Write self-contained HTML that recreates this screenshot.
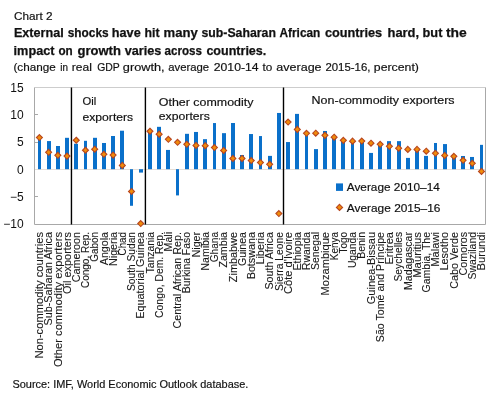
<!DOCTYPE html>
<html><head><meta charset="utf-8"><title>Chart 2</title>
<style>html,body{margin:0;padding:0;background:#fff;width:500px;height:410px;overflow:hidden}</style>
</head><body>
<svg width="500" height="410" viewBox="0 0 500 410" style="display:block;will-change:transform">
<rect x="0" y="0" width="500" height="410" fill="#ffffff"/>
<g font-family='"Liberation Sans", sans-serif' fill="#111111">
<text x="14" y="20" font-size="11.2" stroke="#111111" stroke-width="0.18" textLength="38.5" lengthAdjust="spacingAndGlyphs">Chart 2</text>
<g font-size="12.8" font-weight="bold" stroke="#111" stroke-width="0.25">
<text x="13.90" y="37" textLength="49.80" lengthAdjust="spacingAndGlyphs">External</text>
<text x="67.70" y="37" textLength="40.90" lengthAdjust="spacingAndGlyphs">shocks</text>
<text x="111.80" y="37" textLength="28.90" lengthAdjust="spacingAndGlyphs">have</text>
<text x="144.60" y="37" textLength="15.00" lengthAdjust="spacingAndGlyphs">hit</text>
<text x="163.50" y="37" textLength="34.20" lengthAdjust="spacingAndGlyphs">many</text>
<text x="201.50" y="37" textLength="74.40" lengthAdjust="spacingAndGlyphs">sub-Saharan</text>
<text x="279.50" y="37" textLength="40.80" lengthAdjust="spacingAndGlyphs">African</text>
<text x="324.90" y="37" textLength="57.20" lengthAdjust="spacingAndGlyphs">countries</text>
<text x="387.50" y="37" textLength="31.60" lengthAdjust="spacingAndGlyphs">hard,</text>
<text x="422.60" y="37" textLength="19.80" lengthAdjust="spacingAndGlyphs">but</text>
<text x="445.90" y="37" textLength="20.80" lengthAdjust="spacingAndGlyphs">the</text>
<text x="13.60" y="54.5" textLength="40.90" lengthAdjust="spacingAndGlyphs">impact</text>
<text x="58.40" y="54.5" textLength="14.30" lengthAdjust="spacingAndGlyphs">on</text>
<text x="77.50" y="54.5" textLength="43.40" lengthAdjust="spacingAndGlyphs">growth</text>
<text x="124.80" y="54.5" textLength="36.60" lengthAdjust="spacingAndGlyphs">varies</text>
<text x="164.60" y="54.5" textLength="37.40" lengthAdjust="spacingAndGlyphs">across</text>
<text x="206.40" y="54.5" textLength="59.90" lengthAdjust="spacingAndGlyphs">countries.</text>
</g>
<g font-size="11.2" stroke="#111111" stroke-width="0.18">
<text x="13.40" y="71" textLength="42.30" lengthAdjust="spacingAndGlyphs">(change</text>
<text x="60.30" y="71" textLength="7.70" lengthAdjust="spacingAndGlyphs">in</text>
<text x="71.80" y="71" textLength="20.10" lengthAdjust="spacingAndGlyphs">real</text>
<text x="97.20" y="71" textLength="22.60" lengthAdjust="spacingAndGlyphs">GDP</text>
<text x="122.80" y="71" textLength="41.80" lengthAdjust="spacingAndGlyphs">growth,</text>
<text x="168.20" y="71" textLength="41.00" lengthAdjust="spacingAndGlyphs">average</text>
<text x="213.80" y="71" textLength="44.80" lengthAdjust="spacingAndGlyphs">2010-14</text>
<text x="262.40" y="71" textLength="9.80" lengthAdjust="spacingAndGlyphs">to</text>
<text x="276.30" y="71" textLength="45.30" lengthAdjust="spacingAndGlyphs">average</text>
<text x="325.40" y="71" textLength="45.00" lengthAdjust="spacingAndGlyphs">2015-16,</text>
<text x="373.80" y="71" textLength="45.10" lengthAdjust="spacingAndGlyphs">percent)</text>
</g>
</g>
<line x1="34.5" y1="169.5" x2="485.5" y2="169.5" stroke="#E6DFD8" stroke-width="1"/>
<line x1="34.5" y1="87.50" x2="485.5" y2="87.50" stroke="#CDCDCD" stroke-width="1"/>
<path d="M34.5 87.50V224.50H485.5V87.50" fill="none" stroke="#A8A8A8" stroke-width="1"/>
<line x1="34.5" y1="114.50" x2="38.0" y2="114.50" stroke="#A8A8A8" stroke-width="1"/>
<line x1="34.5" y1="142.50" x2="38.0" y2="142.50" stroke="#A8A8A8" stroke-width="1"/>
<line x1="34.5" y1="196.50" x2="38.0" y2="196.50" stroke="#A8A8A8" stroke-width="1"/>
<g font-family='"Liberation Sans", sans-serif' font-size="12" fill="#111111" text-anchor="end">
<text x="23.6" y="91.60">15</text>
<text x="23.6" y="118.90">10</text>
<text x="23.6" y="146.20">5</text>
<text x="23.6" y="173.50">0</text>
<text x="23.6" y="200.80">−5</text>
<text x="23.6" y="228.10">−10</text>
</g>
<line x1="71.45" y1="87.50" x2="71.45" y2="224.50" stroke="#000" stroke-width="1.4"/>
<line x1="145.40" y1="87.50" x2="145.40" y2="224.50" stroke="#000" stroke-width="1.4"/>
<line x1="283.50" y1="87.50" x2="283.50" y2="224.50" stroke="#000" stroke-width="1.4"/>
<rect x="38" y="138.62" width="3" height="30.58" fill="#0A70CA"/>
<rect x="47" y="141.08" width="4" height="28.12" fill="#0A70CA"/>
<rect x="56" y="146.00" width="4" height="23.20" fill="#0A70CA"/>
<rect x="65" y="137.81" width="4" height="31.39" fill="#0A70CA"/>
<rect x="74" y="143.76" width="4" height="25.44" fill="#0A70CA"/>
<rect x="84" y="140.81" width="3" height="28.39" fill="#0A70CA"/>
<rect x="93" y="137.81" width="4" height="31.39" fill="#0A70CA"/>
<rect x="102" y="142.99" width="4" height="26.21" fill="#0A70CA"/>
<rect x="111" y="136.00" width="4" height="33.20" fill="#0A70CA"/>
<rect x="120" y="130.71" width="4" height="38.49" fill="#0A70CA"/>
<rect x="130" y="169.20" width="3" height="36.58" fill="#0A70CA"/>
<rect x="139" y="169.20" width="4" height="3.39" fill="#0A70CA"/>
<rect x="148" y="130.98" width="4" height="38.22" fill="#0A70CA"/>
<rect x="157" y="126.83" width="4" height="42.37" fill="#0A70CA"/>
<rect x="166" y="149.93" width="4" height="19.27" fill="#0A70CA"/>
<rect x="176" y="169.20" width="3" height="26.21" fill="#0A70CA"/>
<rect x="185" y="133.82" width="4" height="35.38" fill="#0A70CA"/>
<rect x="194" y="131.96" width="4" height="37.24" fill="#0A70CA"/>
<rect x="203" y="139.17" width="4" height="30.03" fill="#0A70CA"/>
<rect x="213" y="123.06" width="3" height="46.14" fill="#0A70CA"/>
<rect x="222" y="133.16" width="4" height="36.04" fill="#0A70CA"/>
<rect x="231" y="123.01" width="4" height="46.19" fill="#0A70CA"/>
<rect x="240" y="155.00" width="4" height="14.20" fill="#0A70CA"/>
<rect x="249" y="134.04" width="4" height="35.16" fill="#0A70CA"/>
<rect x="259" y="136.06" width="3" height="33.14" fill="#0A70CA"/>
<rect x="268" y="155.88" width="4" height="13.32" fill="#0A70CA"/>
<rect x="277" y="112.96" width="4" height="56.24" fill="#0A70CA"/>
<rect x="286" y="142.06" width="4" height="27.14" fill="#0A70CA"/>
<rect x="295" y="113.89" width="4" height="55.31" fill="#0A70CA"/>
<rect x="305" y="132.62" width="3" height="36.58" fill="#0A70CA"/>
<rect x="314" y="149.11" width="4" height="20.09" fill="#0A70CA"/>
<rect x="323" y="130.98" width="4" height="38.22" fill="#0A70CA"/>
<rect x="332" y="137.53" width="4" height="31.67" fill="#0A70CA"/>
<rect x="341" y="141.35" width="4" height="27.85" fill="#0A70CA"/>
<rect x="351" y="141.90" width="3" height="27.30" fill="#0A70CA"/>
<rect x="360" y="141.90" width="4" height="27.30" fill="#0A70CA"/>
<rect x="369" y="152.93" width="4" height="16.27" fill="#0A70CA"/>
<rect x="378" y="144.63" width="4" height="24.57" fill="#0A70CA"/>
<rect x="387" y="141.14" width="4" height="28.06" fill="#0A70CA"/>
<rect x="397" y="141.14" width="4" height="28.06" fill="#0A70CA"/>
<rect x="406" y="157.90" width="4" height="11.30" fill="#0A70CA"/>
<rect x="415" y="150.09" width="4" height="19.11" fill="#0A70CA"/>
<rect x="424" y="155.88" width="4" height="13.32" fill="#0A70CA"/>
<rect x="434" y="142.99" width="3" height="26.21" fill="#0A70CA"/>
<rect x="443" y="144.08" width="4" height="25.12" fill="#0A70CA"/>
<rect x="452" y="156.64" width="4" height="12.56" fill="#0A70CA"/>
<rect x="461" y="155.99" width="4" height="13.21" fill="#0A70CA"/>
<rect x="470" y="156.97" width="4" height="12.23" fill="#0A70CA"/>
<rect x="480" y="144.85" width="3" height="24.35" fill="#0A70CA"/>
<path d="M39.42 134.53L42.42 137.53L39.42 140.53L36.42 137.53Z" fill="#F08C0A" stroke="#B8461F" stroke-width="1.1"/>
<path d="M48.62 149.27L51.62 152.27L48.62 155.27L45.62 152.27Z" fill="#F08C0A" stroke="#B8461F" stroke-width="1.1"/>
<path d="M57.84 152.28L60.84 155.28L57.84 158.28L54.84 155.28Z" fill="#F08C0A" stroke="#B8461F" stroke-width="1.1"/>
<path d="M67.05 153.10L70.05 156.10L67.05 159.10L64.05 156.10Z" fill="#F08C0A" stroke="#B8461F" stroke-width="1.1"/>
<path d="M76.26 137.26L79.26 140.26L76.26 143.26L73.26 140.26Z" fill="#F08C0A" stroke="#B8461F" stroke-width="1.1"/>
<path d="M85.47 147.25L88.47 150.25L85.47 153.25L82.47 150.25Z" fill="#F08C0A" stroke="#B8461F" stroke-width="1.1"/>
<path d="M94.68 146.16L97.68 149.16L94.68 152.16L91.68 149.16Z" fill="#F08C0A" stroke="#B8461F" stroke-width="1.1"/>
<path d="M103.89 151.29L106.89 154.29L103.89 157.29L100.89 154.29Z" fill="#F08C0A" stroke="#B8461F" stroke-width="1.1"/>
<path d="M113.10 152.11L116.10 155.11L113.10 158.11L110.10 155.11Z" fill="#F08C0A" stroke="#B8461F" stroke-width="1.1"/>
<path d="M122.31 162.38L125.31 165.38L122.31 168.38L119.31 165.38Z" fill="#F08C0A" stroke="#B8461F" stroke-width="1.1"/>
<path d="M131.52 188.48L134.52 191.48L131.52 194.48L128.52 191.48Z" fill="#F08C0A" stroke="#B8461F" stroke-width="1.1"/>
<path d="M140.73 220.53L143.73 223.53L140.73 226.53L137.73 223.53Z" fill="#F08C0A" stroke="#B8461F" stroke-width="1.1"/>
<path d="M149.94 128.25L152.94 131.25L149.94 134.25L146.94 131.25Z" fill="#F08C0A" stroke="#B8461F" stroke-width="1.1"/>
<path d="M159.15 131.15L162.15 134.15L159.15 137.15L156.15 134.15Z" fill="#F08C0A" stroke="#B8461F" stroke-width="1.1"/>
<path d="M168.36 136.28L171.36 139.28L168.36 142.28L165.36 139.28Z" fill="#F08C0A" stroke="#B8461F" stroke-width="1.1"/>
<path d="M177.57 139.34L180.57 142.34L177.57 145.34L174.57 142.34Z" fill="#F08C0A" stroke="#B8461F" stroke-width="1.1"/>
<path d="M186.78 141.30L189.78 144.30L186.78 147.30L183.78 144.30Z" fill="#F08C0A" stroke="#B8461F" stroke-width="1.1"/>
<path d="M195.99 142.45L198.99 145.45L195.99 148.45L192.99 145.45Z" fill="#F08C0A" stroke="#B8461F" stroke-width="1.1"/>
<path d="M205.20 142.72L208.20 145.72L205.20 148.72L202.20 145.72Z" fill="#F08C0A" stroke="#B8461F" stroke-width="1.1"/>
<path d="M214.41 144.58L217.41 147.58L214.41 150.58L211.41 147.58Z" fill="#F08C0A" stroke="#B8461F" stroke-width="1.1"/>
<path d="M223.62 147.47L226.62 150.47L223.62 153.47L220.62 150.47Z" fill="#F08C0A" stroke="#B8461F" stroke-width="1.1"/>
<path d="M232.83 155.44L235.83 158.44L232.83 161.44L229.83 158.44Z" fill="#F08C0A" stroke="#B8461F" stroke-width="1.1"/>
<path d="M242.04 155.44L245.04 158.44L242.04 161.44L239.04 158.44Z" fill="#F08C0A" stroke="#B8461F" stroke-width="1.1"/>
<path d="M251.25 157.57L254.25 160.57L251.25 163.57L248.25 160.57Z" fill="#F08C0A" stroke="#B8461F" stroke-width="1.1"/>
<path d="M260.46 159.59L263.46 162.59L260.46 165.59L257.46 162.59Z" fill="#F08C0A" stroke="#B8461F" stroke-width="1.1"/>
<path d="M269.67 161.29L272.67 164.29L269.67 167.29L266.67 164.29Z" fill="#F08C0A" stroke="#B8461F" stroke-width="1.1"/>
<path d="M278.88 210.59L281.88 213.59L278.88 216.59L275.88 213.59Z" fill="#F08C0A" stroke="#B8461F" stroke-width="1.1"/>
<path d="M288.09 119.08L291.09 122.08L288.09 125.08L285.09 122.08Z" fill="#F08C0A" stroke="#B8461F" stroke-width="1.1"/>
<path d="M297.30 126.40L300.30 129.40L297.30 132.40L294.30 129.40Z" fill="#F08C0A" stroke="#B8461F" stroke-width="1.1"/>
<path d="M306.51 130.27L309.51 133.27L306.51 136.27L303.51 133.27Z" fill="#F08C0A" stroke="#B8461F" stroke-width="1.1"/>
<path d="M315.72 130.16L318.72 133.16L315.72 136.16L312.72 133.16Z" fill="#F08C0A" stroke="#B8461F" stroke-width="1.1"/>
<path d="M324.93 132.35L327.93 135.35L324.93 138.35L321.93 135.35Z" fill="#F08C0A" stroke="#B8461F" stroke-width="1.1"/>
<path d="M334.14 134.20L337.14 137.20L334.14 140.20L331.14 137.20Z" fill="#F08C0A" stroke="#B8461F" stroke-width="1.1"/>
<path d="M343.35 137.37L346.35 140.37L343.35 143.37L340.35 140.37Z" fill="#F08C0A" stroke="#B8461F" stroke-width="1.1"/>
<path d="M352.56 138.14L355.56 141.14L352.56 144.14L349.56 141.14Z" fill="#F08C0A" stroke="#B8461F" stroke-width="1.1"/>
<path d="M361.77 138.08L364.77 141.08L361.77 144.08L358.77 141.08Z" fill="#F08C0A" stroke="#B8461F" stroke-width="1.1"/>
<path d="M370.98 140.16L373.98 143.16L370.98 146.16L367.98 143.16Z" fill="#F08C0A" stroke="#B8461F" stroke-width="1.1"/>
<path d="M380.19 141.30L383.19 144.30L380.19 147.30L377.19 144.30Z" fill="#F08C0A" stroke="#B8461F" stroke-width="1.1"/>
<path d="M389.40 143.27L392.40 146.27L389.40 149.27L386.40 146.27Z" fill="#F08C0A" stroke="#B8461F" stroke-width="1.1"/>
<path d="M398.61 145.18L401.61 148.18L398.61 151.18L395.61 148.18Z" fill="#F08C0A" stroke="#B8461F" stroke-width="1.1"/>
<path d="M407.82 146.38L410.82 149.38L407.82 152.38L404.82 149.38Z" fill="#F08C0A" stroke="#B8461F" stroke-width="1.1"/>
<path d="M417.03 146.38L420.03 149.38L417.03 152.38L414.03 149.38Z" fill="#F08C0A" stroke="#B8461F" stroke-width="1.1"/>
<path d="M426.24 148.18L429.24 151.18L426.24 154.18L423.24 151.18Z" fill="#F08C0A" stroke="#B8461F" stroke-width="1.1"/>
<path d="M435.45 150.31L438.45 153.31L435.45 156.31L432.45 153.31Z" fill="#F08C0A" stroke="#B8461F" stroke-width="1.1"/>
<path d="M444.66 152.44L447.66 155.44L444.66 158.44L441.66 155.44Z" fill="#F08C0A" stroke="#B8461F" stroke-width="1.1"/>
<path d="M453.87 153.37L456.87 156.37L453.87 159.37L450.87 156.37Z" fill="#F08C0A" stroke="#B8461F" stroke-width="1.1"/>
<path d="M463.08 157.30L466.08 160.30L463.08 163.30L460.08 160.30Z" fill="#F08C0A" stroke="#B8461F" stroke-width="1.1"/>
<path d="M472.29 160.30L475.29 163.30L472.29 166.30L469.29 163.30Z" fill="#F08C0A" stroke="#B8461F" stroke-width="1.1"/>
<path d="M481.50 168.38L484.50 171.38L481.50 174.38L478.50 171.38Z" fill="#F08C0A" stroke="#B8461F" stroke-width="1.1"/>
<g font-family='"Liberation Sans", sans-serif' font-size="11.2" fill="#111111" stroke="#111111" stroke-width="0.18">
<text x="82.5" y="105">Oil</text>
<text x="82.5" y="120.5" textLength="50.7" lengthAdjust="spacingAndGlyphs">exporters</text>
<text x="158.8" y="105.6" textLength="94.6" lengthAdjust="spacingAndGlyphs">Other commodity</text>
<text x="158.8" y="120" textLength="51" lengthAdjust="spacingAndGlyphs">exporters</text>
<text x="311.6" y="104" textLength="143" lengthAdjust="spacingAndGlyphs">Non-commodity exporters</text>
</g>
<rect x="336" y="183.4" width="7" height="7.5" fill="#0A70CA"/>
<path d="M339.5 204.3L342.6 207.4L339.5 210.5L336.4 207.4Z" fill="#F08C0A" stroke="#B8461F" stroke-width="1.1"/>
<g font-family='"Liberation Sans", sans-serif' font-size="11.2" fill="#111111" stroke="#111111" stroke-width="0.18">
<text x="346.8" y="191" textLength="93" lengthAdjust="spacingAndGlyphs">Average 2010–14</text>
<text x="346.8" y="212.2" textLength="93.6" lengthAdjust="spacingAndGlyphs">Average 2015–16</text>
</g>
<g font-family='"Liberation Sans", sans-serif' font-size="11.2" fill="#1a1a1a" stroke="#1a1a1a" stroke-width="0.1" text-anchor="end">
<text transform="translate(43.12 232) rotate(-90)" textLength="126.6" lengthAdjust="spacingAndGlyphs">Non-commodity countries</text>
<text transform="translate(52.33 232) rotate(-90)" textLength="93.5" lengthAdjust="spacingAndGlyphs">Sub-Saharan Africa</text>
<text transform="translate(61.54 232) rotate(-90)" textLength="135.1" lengthAdjust="spacingAndGlyphs">Other commodity exporters</text>
<text transform="translate(70.75 232) rotate(-90)" textLength="61.9" lengthAdjust="spacingAndGlyphs">Oil exporters</text>
<text transform="translate(79.96 232) rotate(-90)" textLength="50.2" lengthAdjust="spacingAndGlyphs">Cameroon</text>
<text transform="translate(89.17 232) rotate(-90)" textLength="56.0" lengthAdjust="spacingAndGlyphs">Congo, Rep.</text>
<text transform="translate(98.38 232) rotate(-90)" textLength="29.7" lengthAdjust="spacingAndGlyphs">Gabon</text>
<text transform="translate(107.59 232) rotate(-90)" textLength="33.2" lengthAdjust="spacingAndGlyphs">Angola</text>
<text transform="translate(116.80 232) rotate(-90)" textLength="34.0" lengthAdjust="spacingAndGlyphs">Nigeria</text>
<text transform="translate(126.01 232) rotate(-90)" textLength="23.4" lengthAdjust="spacingAndGlyphs">Chad</text>
<text transform="translate(135.22 232) rotate(-90)" textLength="59.0" lengthAdjust="spacingAndGlyphs">South Sudan</text>
<text transform="translate(144.43 232) rotate(-90)" textLength="86.8" lengthAdjust="spacingAndGlyphs">Equatorial Guinea</text>
<text transform="translate(153.63 232) rotate(-90)" textLength="41.5" lengthAdjust="spacingAndGlyphs">Tanzania</text>
<text transform="translate(162.84 232) rotate(-90)" textLength="85.9" lengthAdjust="spacingAndGlyphs">Congo, Dem. Rep.</text>
<text transform="translate(172.06 232) rotate(-90)" textLength="19.4" lengthAdjust="spacingAndGlyphs">Mali</text>
<text transform="translate(181.27 232) rotate(-90)" textLength="96.5" lengthAdjust="spacingAndGlyphs">Central African Rep.</text>
<text transform="translate(190.47 232) rotate(-90)" textLength="61.3" lengthAdjust="spacingAndGlyphs">Burkina Faso</text>
<text transform="translate(199.69 232) rotate(-90)" textLength="25.3" lengthAdjust="spacingAndGlyphs">Niger</text>
<text transform="translate(208.90 232) rotate(-90)" textLength="38.5" lengthAdjust="spacingAndGlyphs">Namibia</text>
<text transform="translate(218.11 232) rotate(-90)" textLength="30.3" lengthAdjust="spacingAndGlyphs">Ghana</text>
<text transform="translate(227.31 232) rotate(-90)" textLength="35.6" lengthAdjust="spacingAndGlyphs">Zambia</text>
<text transform="translate(236.53 232) rotate(-90)" textLength="50.2" lengthAdjust="spacingAndGlyphs">Zimbabwe</text>
<text transform="translate(245.74 232) rotate(-90)" textLength="34.1" lengthAdjust="spacingAndGlyphs">Guinea</text>
<text transform="translate(254.95 232) rotate(-90)" textLength="47.3" lengthAdjust="spacingAndGlyphs">Botswana</text>
<text transform="translate(264.16 232) rotate(-90)" textLength="32.6" lengthAdjust="spacingAndGlyphs">Liberia</text>
<text transform="translate(273.37 232) rotate(-90)" textLength="57.5" lengthAdjust="spacingAndGlyphs">South Africa</text>
<text transform="translate(282.57 232) rotate(-90)" textLength="59.0" lengthAdjust="spacingAndGlyphs">Sierra Leone</text>
<text transform="translate(291.79 232) rotate(-90)" textLength="61.9" lengthAdjust="spacingAndGlyphs">Côte d'Ivoire</text>
<text transform="translate(301.00 232) rotate(-90)" textLength="38.5" lengthAdjust="spacingAndGlyphs">Ethiopia</text>
<text transform="translate(310.21 232) rotate(-90)" textLength="37.9" lengthAdjust="spacingAndGlyphs">Rwanda</text>
<text transform="translate(319.42 232) rotate(-90)" textLength="37.9" lengthAdjust="spacingAndGlyphs">Senegal</text>
<text transform="translate(328.62 232) rotate(-90)" textLength="63.4" lengthAdjust="spacingAndGlyphs">Mozambique</text>
<text transform="translate(337.84 232) rotate(-90)" textLength="28.2" lengthAdjust="spacingAndGlyphs">Kenya</text>
<text transform="translate(347.05 232) rotate(-90)" textLength="21.5" lengthAdjust="spacingAndGlyphs">Togo</text>
<text transform="translate(356.25 232) rotate(-90)" textLength="36.1" lengthAdjust="spacingAndGlyphs">Uganda</text>
<text transform="translate(365.47 232) rotate(-90)" textLength="26.8" lengthAdjust="spacingAndGlyphs">Benin</text>
<text transform="translate(374.68 232) rotate(-90)" textLength="72.2" lengthAdjust="spacingAndGlyphs">Guinea-Bissau</text>
<text transform="translate(383.89 232) rotate(-90)" textLength="110.2" lengthAdjust="spacingAndGlyphs">São Tomé and Príncipe</text>
<text transform="translate(393.10 232) rotate(-90)" textLength="32.5" lengthAdjust="spacingAndGlyphs">Eritrea</text>
<text transform="translate(402.31 232) rotate(-90)" textLength="49.5" lengthAdjust="spacingAndGlyphs">Seychelles</text>
<text transform="translate(411.52 232) rotate(-90)" textLength="58.0" lengthAdjust="spacingAndGlyphs">Madagascar</text>
<text transform="translate(420.73 232) rotate(-90)" textLength="45.8" lengthAdjust="spacingAndGlyphs">Mauritius</text>
<text transform="translate(429.94 232) rotate(-90)" textLength="60.4" lengthAdjust="spacingAndGlyphs">Gambia, The</text>
<text transform="translate(439.15 232) rotate(-90)" textLength="34.8" lengthAdjust="spacingAndGlyphs">Malawi</text>
<text transform="translate(448.36 232) rotate(-90)" textLength="38.5" lengthAdjust="spacingAndGlyphs">Lesotho</text>
<text transform="translate(457.57 232) rotate(-90)" textLength="56.8" lengthAdjust="spacingAndGlyphs">Cabo Verde</text>
<text transform="translate(466.78 232) rotate(-90)" textLength="43.4" lengthAdjust="spacingAndGlyphs">Comoros</text>
<text transform="translate(475.99 232) rotate(-90)" textLength="47.5" lengthAdjust="spacingAndGlyphs">Swaziland</text>
<text transform="translate(485.20 232) rotate(-90)" textLength="38.5" lengthAdjust="spacingAndGlyphs">Burundi</text>
</g>
<text x="12.4" y="388" font-family='"Liberation Sans", sans-serif' font-size="11.2" fill="#111111" stroke="#111111" stroke-width="0.18" textLength="236" lengthAdjust="spacingAndGlyphs">Source: IMF, World Economic Outlook database.</text>
</svg>
</body></html>
